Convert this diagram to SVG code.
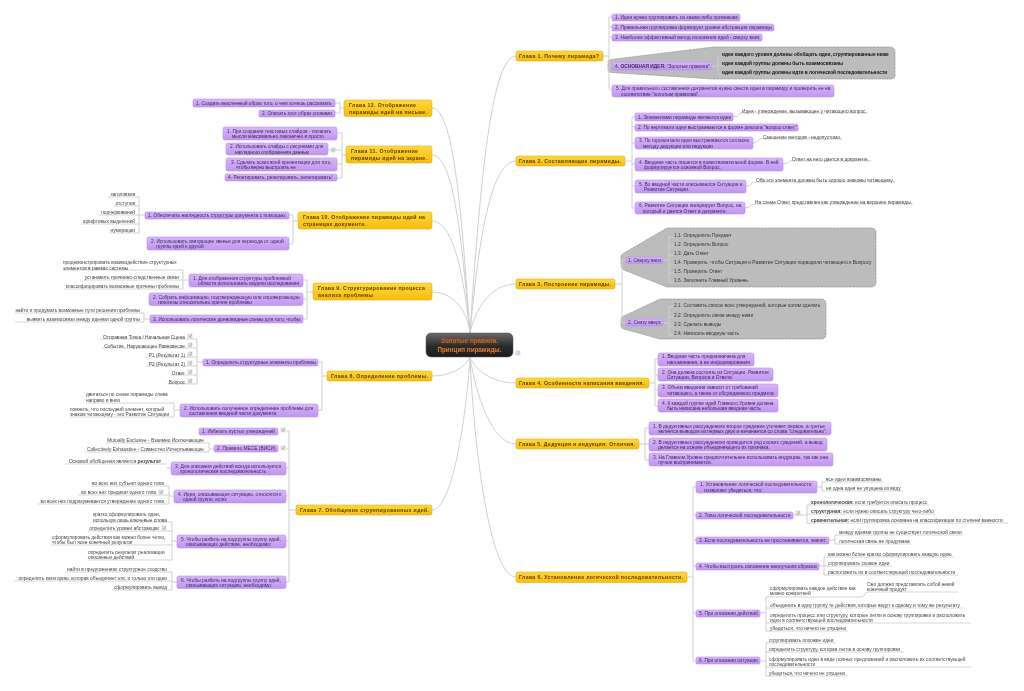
<svg xmlns="http://www.w3.org/2000/svg" xmlns:xlink="http://www.w3.org/1999/xlink" width="1024" height="691" viewBox="0 0 1024 691">
<style>
text{font-family:"Liberation Sans",Arial,sans-serif;fill:#333}
.c{fill:none;stroke:#cfcfcf;stroke-width:1}
.u{fill:none;stroke:#c4c4c4;stroke-width:.7}
.p{fill:url(#pg);stroke:#b890ec;stroke-width:.6}
.h{fill:url(#og);stroke:#dcb12c;stroke-width:.6}
.g{fill:#bcbcbc;stroke:#8e8e8e;stroke-width:.6;stroke-dasharray:3 .6}
.t{font-size:4.85px;fill:#3c2a58}
.n{font-size:4.8px;fill:#444}
.e{text-anchor:end}
.b{font-weight:bold}
.k{font-size:4.75px;fill:#111;font-weight:bold}
.d{font-size:4.85px;fill:#333}
.a{font-size:5.2px;font-weight:bold;fill:#5a4300}
</style>
<defs>
<linearGradient id="pg" x1="0" y1="0" x2="0" y2="1"><stop offset="0" stop-color="#d7b6fa"/><stop offset="1" stop-color="#c194f2"/></linearGradient>
<linearGradient id="og" x1="0" y1="0" x2="0" y2="1"><stop offset="0" stop-color="#ffd83c"/><stop offset="1" stop-color="#f8bd05"/></linearGradient>
<linearGradient id="cg" x1="0" y1="0" x2="0" y2="1"><stop offset="0" stop-color="#6a6a6a"/><stop offset=".55" stop-color="#2b2b2b"/><stop offset="1" stop-color="#1c1c1c"/></linearGradient>
<filter id="bl" filterUnits="userSpaceOnUse" x="0" y="0" width="1024" height="691"><feGaussianBlur stdDeviation=".28"/></filter>
<g id="ic"><rect x="-2" y="-2" width="4" height="4" fill="#e6e6e6" stroke="#b4b4b4" stroke-width=".4"/><path d="M-1 .2 0 1.2 1.6-1.6" fill="none" stroke="#7d9b63" stroke-width=".6"/></g>
</defs>
<rect width="1024" height="691" fill="#fff"/>
<g filter="url(#bl)">
<g id="hulls">
<path class="g" d="M608 62Q608 60 611 59.500L713 47H889Q895 47 895 52V76Q895 79 891 79H713L611 72.500Q608 72 608 69Z"/>
<path class="g" d="M621 256Q622 254 624 253L667 228H871Q876 228 876 233V282Q876 287 871 287H667L624 270Q621 268 621 265Z"/>
<path class="g" d="M621 319Q621 317 624 316L660 299H821Q826 299 826 304V334Q826 339 821 339H660L624 329Q621 328 621 325Z"/>
</g>

<g id="connectors">
<path class="c" d="M470 333C479 200 490 56 516 56"/>
<path class="c" d="M470 333C477 260 488 161 516 161"/>
<path class="c" d="M470 333C475 310 490 284 516 284"/>
<path class="c" d="M470 357C475 370 492 383 516 383"/>
<path class="c" d="M470 357C476 395 492 444 516 444"/>
<path class="c" d="M470 357C474 450 490 577 516 577"/>
<path class="c" d="M470 333C463 240 456 108 432 108"/>
<path class="c" d="M470 333C463 260 456 155 432 155"/>
<path class="c" d="M470 333C465 290 456 221 432 221"/>
<path class="c" d="M470 333C468 315 456 292 432 292"/>
<path class="c" d="M470 357C465 368 450 376 432 376"/>
<path class="c" d="M470 357C466 420 452 510 432 510"/>

<path class="c" d="M603 56H609M609 17V88Q609 90 612 90M612 17H609M612 27H609M612 37H609M612 66H609"/>
<path class="c" d="M625 161H632M632 117V208M635 117H632M635 127H632M635 143H632M635 164H632M635 186H632M635 208H632"/>
<path class="c" d="M733 117Q738 117 740 113.500L742 112.500M753 143Q758 143 760 139L763 138.500M783 164Q788 164 790 161L792 160.500M746 186Q750 186 752 183L756 182M745 208Q749 208 751 205L755 204"/>
<path class="c" d="M615 284H622M622 260V323M626 260H622M626 323H622"/>
<path class="c" d="M663 260H669M669 236V281M674 237H669M674 246H669M674 255H669M674 264H669M674 273H669M674 282H669"/>
<path class="c" d="M663 323H669M669 307V335M674 307H669M674 317H669M674 326H669M674 335H669"/>
<path class="c" d="M649 383H655M655 359V406M658 359H655M658 375H655M658 390H655M658 406H655"/>
<path class="c" d="M639 444H645M645 428V460M649 428H645M649 444H645M649 460H645"/>
<path class="c" d="M687 577H693M693 487V661M696 487H693M696 515H693M696 540H693M696 566H693M696 613H693M696 661H693"/>
<path class="c" d="M817 487H822M822 482V491M826 482H822M826 491H822"/>
<path class="c" d="M793 515H807M807 505V523M811 505H807M811 514H807M811 523H807"/>
<path class="c" d="M829 540H835M835 535V544M839 535H835M839 544H835"/>
<path class="c" d="M819 566H824M824 557V575M828 557H824M828 566H824M828 575H824"/>
<path class="c" d="M760 613H766M766 597V631M770 597H766M770 608H766M770 623H766M770 631H766M860 597Q864 597 865 594L867 592"/>
<path class="c" d="M760 661H766M766 643V676M769 643H766M769 652H766M769 667H766M769 676H766"/>

<path class="c" d="M344 108H340M340 103V113M335 103H340M335 113H340"/>
<path class="c" d="M346 155H342M342 133V178M337 133H342M328 150H342M337 164H342M337 178H342"/>
<path class="c" d="M298 221H293M293 215V244M289 215H293M289 244H293"/>
<path class="c" d="M145 215H139M139 197V233M135 197H139M135 206H139M135 215H139M135 224H139M135 233H139"/>
<path class="c" d="M313 292H307M307 280V319M303 280H307M303 299H307M303 319H307"/>
<path class="c" d="M189 280H183M183 270V289M179 270H183M179 280H183M179 289H183"/>
<path class="c" d="M150 319H144M144 313V322M140 313H144M140 322H144"/>
<path class="c" d="M327 376H322M322 362V410M318 362H322M318 410H322"/>
<path class="c" d="M203 362H197M197 339V384M193 339H197M193 348H197M193 357H197M193 366H197M193 375H197M193 384H197"/>
<path class="c" d="M180 410H174M174 403V417M170 403H174M170 417H174"/>
<path class="c" d="M296 510H289M289 431V582M286 431H289M286 449H289M286 468H289M286 496H289M286 541H289M286 582H289"/>
<path class="c" d="M214 449H209M209 443V452M204 443H209M204 452H209"/>
<path class="c" d="M171 468H166M166 464H161"/>
<path class="c" d="M174 496H169M169 486V504M164 486H169M164 495H169M164 504H169"/>
<path class="c" d="M177 541H172M172 522V560M167 522H172M167 531H172M167 545H172M167 560H172"/>
<path class="c" d="M177 582H172M172 572V590M167 572H172M167 581H172M167 590H172"/>

<path class="u" d="M742 113H868M763 139H842M792 161H871M756 182H895M755 204H913"/>
<path class="u" d="M674 237H733M674 246H730M674 255H711M674 264H871M674 273H722M674 282H749M674 307H820M674 317H754M674 326H722M674 335H739"/>
<path class="u" d="M826 482H883M826 491H903M811 505H929M811 514H935M811 523H1008M839 535H963M839 544H911M828 557H954M828 566H892M828 575H958"/>
<path class="u" d="M770 597H860M867 592H958M770 608H963M770 623H971M770 631H848M769 643H836M769 652H904M769 667H971M769 676H848"/>
<path class="u" d="M108 197H135M114 206H135M99 215H135M81 224H135M109 233H135"/>
<path class="u" d="M63 270H179M84 280H179M64 289H179M15 313H140M15 322H140"/>
<path class="u" d="M100 339H193M102 348H193M146 357H193M146 366H193M170 375H193M167 384H193M86 403H170M70 417H170"/>
<path class="u" d="M105 443H204M85 452H204M65 464H161M91 486H164M78 495H164M38 504H164"/>
<path class="u" d="M92 522H167M88 531H167M51 545H167M87 560H167M65 572H167M14 581H167M112 590H167"/>
</g>

<g id="center"><rect x="426" y="333" width="87" height="24" rx="5" fill="url(#cg)" stroke="#555" stroke-width=".5"/><text x="469.500" y="343" text-anchor="middle" font-size="6.300" font-weight="bold" style="fill:#e25f18">Золотые правила.</text><text x="469.500" y="351.500" text-anchor="middle" font-size="6.300" font-weight="bold" style="fill:#ec7a22">Принцип пирамиды.</text><rect x="516" y="351" width="4" height="4" fill="#cfdcee" stroke="#a9bcd8" stroke-width=".4"/></g>

<g id="ch1"><rect class="h" x="516" y="51" width="87" height="10" rx="2"/><text class="a" x="519" y="57.800" textLength="80">Глава 1. Почему пирамида?</text>
<rect class="p" x="612" y="14" width="128" height="7" rx="1.500"/><text class="t" x="615" y="19">1. Идеи нужно группировать по каким-либо признакам</text>
<rect class="p" x="612" y="24" width="162" height="7" rx="1.500"/><text class="t" x="615" y="29">2. Правильная группировка формирует уровни абстракции пирамиды</text>
<rect class="p" x="612" y="34" width="150" height="7" rx="1.500"/><text class="t" x="615" y="39">3. Наиболее эффективный метод изложения идей - сверху вниз</text>
<rect class="p" x="612" y="62" width="100" height="8" rx="1.500"/><text class="t" x="615" y="67.500">4. <tspan class="b">ОСНОВНАЯ ИДЕЯ:</tspan> "Золотые правила"</text>
<path class="c" d="M712 66H718M718 56V72M722 56H718M722 65H718M722 74H718"/>
<text class="k" x="722" y="56">идеи каждого уровня должны обобщать идеи, сгруппированные ниже</text><text class="k" x="722" y="65">идеи каждой группы должны быть взаимосвязаны</text><text class="k" x="722" y="74">идеи каждой группы должны идти в логической последовательности</text>
<rect class="p" x="612" y="85" width="222" height="12" rx="2"/><text class="t" x="616" y="90">5. Для правильного составления документов нужно свести идеи в пирамиду и проверить ее на</text><text class="t" x="621" y="95.500">соответствие "золотым правилам".</text></g>

<g id="ch2"><rect class="h" x="516" y="156" width="109" height="10" rx="2"/><text class="a" x="519" y="162.800" textLength="102">Глава 2. Составляющие пирамиды.</text>
<rect class="p" x="635" y="113" width="98" height="8" rx="1.500"/><text class="t" x="638" y="118.500">1. Элементами пирамиды являются идеи</text><text class="n" x="742" y="112.500">Идея - утверждение, вызывающее у читающего вопрос.</text>
<rect class="p" x="635" y="124" width="163" height="7" rx="1.500"/><text class="t" x="638" y="129">2. По вертикали идеи выстраиваются в форме диалога "вопрос-ответ".</text>
<rect class="p" x="635" y="137" width="118" height="12" rx="2"/><text class="t" x="639" y="142">3. По горизонтали идеи выстраиваются согласно</text><text class="t" x="643" y="147.500">методу дедукции или индукции</text><text class="n" x="763" y="138.500">Смешение методов - недопустимо.</text>
<rect class="p" x="635" y="158" width="148" height="13" rx="2"/><text class="t" x="639" y="163.500">4. Вводная часть пишется в повествовательной форме. В ней</text><text class="t" x="644" y="169">формулируется основной Вопрос.</text><text class="n" x="792" y="160.500">Ответ на него дается в документе.</text>
<rect class="p" x="635" y="180" width="111" height="13" rx="2"/><text class="t" x="639" y="185.500">5. Во вводной части описываются Ситуация и</text><text class="t" x="644" y="191">Развитие Ситуации.</text><text class="n" x="756" y="181.500">Оба эти элемента должны быть хорошо знакомы читающему.</text>
<rect class="p" x="635" y="202" width="110" height="12" rx="2"/><text class="t" x="639" y="207">6. Развитие Ситуации инициирует Вопрос, на</text><text class="t" x="643" y="212.500">который и дается Ответ в документе.</text><text class="n" x="755" y="203.500">На схеме Ответ представлен как утверждение на вершине пирамиды.</text></g>

<g id="ch3"><rect class="h" x="516" y="279" width="99" height="10" rx="2"/><text class="a" x="519" y="285.800" textLength="92">Глава 3. Построение пирамиды.</text>
<rect class="p" x="626" y="257" width="37" height="6.500" rx="1.500"/><text class="t" x="628" y="261.800">1. Сверху вниз</text>
<text class="d" x="674" y="236.500">1.1. Определить Предмет</text><text class="d" x="674" y="245.500">1.2. Определить Вопрос</text><text class="d" x="674" y="254.500">1.3. Дать Ответ</text><text class="d" x="674" y="263.500">1.4. Проверить, чтобы Ситуация и Развитие Ситуации подводили читающего к Вопросу</text><text class="d" x="674" y="272.500">1.5. Проверить Ответ</text><text class="d" x="674" y="281.500">1.6. Заполнить Главный Уровень.</text>
<rect class="p" x="626" y="319" width="37" height="7" rx="1.500"/><text class="t" x="628" y="324">2. Снизу вверх</text>
<text class="d" x="674" y="306.500">2.1. Составить список всех утверждений, которые хотим сделать</text><text class="d" x="674" y="316.500">2.2. Определить связи между ними</text><text class="d" x="674" y="325.500">2.3. Сделать выводы</text><text class="d" x="674" y="334.500">2.4. Написать вводную часть</text></g>

<g id="ch4"><rect class="h" x="516" y="378" width="133" height="10" rx="2"/><text class="a" x="519" y="384.800" textLength="125">Глава 4. Особенности написания введения.</text>
<rect class="p" x="658" y="353" width="96" height="13" rx="2"/><text class="t" x="662" y="358">1. Вводная часть предназначена для</text><text class="t" x="667" y="363.800">напоминания, а не информирования</text>
<rect class="p" x="658" y="368" width="115" height="13" rx="2"/><text class="t" x="662" y="373.500">2. Она должна состоять из Ситуации, Развития</text><text class="t" x="667" y="379">Ситуации, Вопроса и Ответа</text>
<rect class="p" x="658" y="384" width="120" height="13" rx="2"/><text class="t" x="662" y="389">3. Объем введения зависит от требований</text><text class="t" x="667" y="394.500">читающего, а также от обсуждаемого предмета</text>
<rect class="p" x="658" y="399" width="120" height="13" rx="2"/><text class="t" x="662" y="404.500">4. К каждой группе идей Главного Уровня должна</text><text class="t" x="667" y="410">быть написана небольшая вводная часть</text></g>

<g id="ch5"><rect class="h" x="516" y="439" width="123" height="10" rx="2"/><text class="a" x="519" y="445.800" textLength="116">Глава 5. Дедукция и индукция: Отличия.</text>
<rect class="p" x="649" y="422" width="182" height="13" rx="2"/><text class="t" x="653" y="427.500">1. В дедуктивных рассуждениях второе суждение уточняет первое, а третье</text><text class="t" x="658" y="433">является выводом из первых двух и начинается со слова "следовательно".</text>
<rect class="p" x="649" y="438" width="178" height="13" rx="2"/><text class="t" x="653" y="443.500">2. В индуктивных рассуждениях приводится ряд схожих суждений, а вывод</text><text class="t" x="658" y="449">делается на основе объединяющего их признака.</text>
<rect class="p" x="649" y="453" width="184" height="13" rx="2"/><text class="t" x="653" y="458.500">3. На Главном Уровне предпочтительнее использовать индукцию, так как она</text><text class="t" x="658" y="464">лучше воспринимается.</text></g>

<g id="ch6"><rect class="h" x="516" y="572" width="171" height="10.500" rx="2"/><text class="a" x="519" y="579" textLength="164">Глава 6. Установление логической последовательности.</text>
<rect class="p" x="696" y="481" width="121" height="12" rx="2"/><text class="t" x="700" y="486">1. Установление логической последовательности</text><text class="t" x="704" y="491.500">позволяет убедиться, что:</text>
<text class="n" x="826" y="481">все идеи взаимосвязаны</text><text class="n" x="826" y="490">ни одна идея не упущена из виду</text>
<rect class="p" x="696" y="512" width="97" height="7" rx="1.500"/><text class="t" x="699" y="517">2. Типы логической последовательности</text><use href="#ic" xlink:href="#ic" x="798" y="513"/>
<text class="n" x="811" y="504"><tspan class="b">хронологическая:</tspan> если требуется описать процесс</text><text class="n" x="811" y="513"><tspan class="b">структурная:</tspan> если нужно описать структуру чего-либо</text><text class="n" x="811" y="522"><tspan class="b">сравнительная:</tspan> если группировка основана на классификации по степени важности</text>
<rect class="p" x="696" y="537" width="133" height="7" rx="1.500"/><text class="t" x="699" y="542">3. Если последовательность не прослеживается, значит:</text>
<text class="n" x="839" y="534">между идеями группы не существует логической связи</text><text class="n" x="839" y="543">логическая связь не продумана</text>
<rect class="p" x="696" y="563" width="123" height="7" rx="1.500"/><text class="t" x="699" y="568">4. Чтобы выстроить изложение наилучшим образом</text>
<text class="n" x="828" y="556">как можно более кратко сформулировать каждую идею</text><text class="n" x="828" y="565">сгруппировать схожие идеи</text><text class="n" x="828" y="574">расположить их в соответствующей последовательности</text>
<rect class="p" x="696" y="610" width="64" height="7" rx="1.500"/><text class="t" x="699" y="615">5. При описании действий</text>
<text class="n" x="770" y="589.500">сформулировать каждое действие как</text><text class="n" x="770" y="595">можно конкретней</text><text class="n" x="867" y="586">Оно должно представлять собой некий</text><text class="n" x="867" y="591.300">конечный продукт</text>
<text class="n" x="770" y="607">объединить в одну группу те действия, которые ведут к одному и тому же результату</text>
<text class="n" x="770" y="616.500">определить процесс или структуру, которые легли в основу группировки и расположить</text><text class="n" x="770" y="622">идеи в соответствующей последовательности</text><text class="n" x="770" y="630">убедиться, что ничего не упущено</text>
<rect class="p" x="696" y="657" width="64" height="7" rx="1.500"/><text class="t" x="699" y="662">6. При описании ситуации</text>
<text class="n" x="769" y="642">сгруппировать похожие идеи</text><text class="n" x="769" y="651">определить структуру, которая легла в основу группировки</text><text class="n" x="769" y="660.500">сформулировать идеи в виде полных предложений и расположить их соответствующей</text><text class="n" x="769" y="666">последовательности</text><text class="n" x="769" y="675">убедиться, что ничего не упущено</text></g>

<g id="ch12"><rect class="h" x="344" y="100" width="88" height="16.500" rx="2"/><text class="a" x="349" y="106.500" textLength="67">Глава 12. Отображение</text><text class="a" x="349" y="113.500" textLength="78">пирамиды идей на письме.</text>
<rect class="p" x="193" y="99" width="142" height="8" rx="1.500"/><text class="t" x="196" y="104.500">1. Создать мысленный образ того, о чем хочешь рассказать</text>
<rect class="p" x="259" y="110" width="76" height="7" rx="1.500"/><text class="t" x="262" y="115">2. Описать этот образ словами</text></g>

<g id="ch11"><rect class="h" x="346" y="146" width="86" height="17" rx="2"/><text class="a" x="351" y="153" textLength="67">Глава 11. Отображение</text><text class="a" x="351" y="159.800" textLength="76">пирамиды идей на экране.</text>
<rect class="p" x="223" y="127" width="114" height="13" rx="2"/><text class="t" x="227" y="132.500">1. При создании текстовых слайдов - излагать</text><text class="t" x="232" y="138">мысли максимально лаконично и просто</text>
<rect class="p" x="226" y="143" width="102" height="12" rx="2"/><text class="t" x="230" y="148">2. Использовать слайды с рисунками для</text><text class="t" x="235" y="153.500">наглядного отображения данных</text><use href="#ic" xlink:href="#ic" x="333" y="150"/>
<rect class="p" x="226" y="158" width="111" height="13" rx="2"/><text class="t" x="231" y="163.500">3. Сделать эскиз всей презентации для того,</text><text class="t" x="236" y="169">чтобы верно выстроить ее</text>
<rect class="p" x="225" y="174" width="112" height="7" rx="1.500"/><text class="t" x="228" y="179">4. Репетировать, репетировать, репетировать!</text></g>

<g id="ch10"><rect class="h" x="298" y="212" width="134" height="17" rx="2"/><text class="a" x="303" y="219" textLength="122">Глава 10. Отображение пирамиды идей на</text><text class="a" x="303" y="225.800" textLength="63">страницах документа.</text>
<rect class="p" x="145" y="212" width="144" height="7" rx="1.500"/><text class="t" x="148" y="217">1. Обеспечить наглядность структуры документа с помощью:</text>
<rect class="p" x="147" y="237" width="142" height="13" rx="2"/><text class="t" x="151" y="242.500">2. Использовать связующие звенья для перехода от одной</text><text class="t" x="156" y="248">группы идей к другой</text>
<text class="n e" x="135" y="196">заголовков</text><text class="n e" x="135" y="205">отступов</text><text class="n e" x="135" y="214">подчеркиваний</text><text class="n e" x="135" y="223">шрифтовых выделений</text><text class="n e" x="135" y="232">нумерации</text></g>

<g id="ch9"><rect class="h" x="313" y="283" width="119" height="17" rx="2"/><text class="a" x="318" y="290" textLength="107">Глава 9. Структурирование процесса</text><text class="a" x="318" y="296.800" textLength="55">анализа проблемы</text>
<rect class="p" x="189" y="274" width="114" height="13" rx="2"/><text class="t" x="193" y="279.500">1. Для отображения структуры проблемной</text><text class="t" x="198" y="285">области использовать модели исследования</text>
<rect class="p" x="149" y="293" width="154" height="12.500" rx="2"/><text class="t" x="153" y="298.500">2. Собрать информацию, подтверждающую или опровергающую</text><text class="t" x="158" y="304">гипотезы относительно причин проблемы</text>
<rect class="p" x="150" y="315" width="153" height="8" rx="1.500"/><text class="t" x="153" y="320.500">3. Использовать логические древовидные схемы для того, чтобы:</text>
<text class="n" x="63" y="264">продемонстрировать взаимодействие структурных</text><text class="n" x="63" y="269.500">элементов в рамках системы</text><text class="n e" x="179" y="279">устанавить причинно-следственные связи</text><text class="n e" x="179" y="288">классифицировать возможные причины проблемы</text>
<text class="n e" x="140" y="312">найти и продумать возможные пути решения проблемы</text><text class="n e" x="140" y="321">выявить взаимосвязи между идеями одной группы</text></g>

<g id="ch8"><rect class="h" x="327" y="371" width="105" height="10" rx="2"/><text class="a" x="331" y="377.800" textLength="97">Глава 8. Определение проблемы.</text>
<rect class="p" x="203" y="359" width="115" height="7" rx="1.500"/><text class="t" x="206" y="364">1. Определить структурные элементы проблемы</text>
<rect class="p" x="180" y="404" width="138" height="13" rx="2"/><text class="t" x="184" y="409.500">2. Использовать полученное определение проблемы для</text><text class="t" x="189" y="415">составления вводной части документа</text>
<text class="n e" x="185" y="338.500">Отправная Точка / Начальная Сцена</text><text class="n e" x="185" y="347.500">Событие, Нарушающее Равновесие</text><text class="n e" x="185" y="356.500">P1 (Результат 1)</text><text class="n e" x="185" y="365.500">P2 (Результат 2)</text><text class="n e" x="185" y="374.500">Ответ</text><text class="n e" x="185" y="383.500">Вопрос</text>
<use href="#ic" xlink:href="#ic" x="190" y="336"/><use href="#ic" xlink:href="#ic" x="190" y="345"/><use href="#ic" xlink:href="#ic" x="190" y="354"/><use href="#ic" xlink:href="#ic" x="190" y="363"/><use href="#ic" xlink:href="#ic" x="190" y="372"/><use href="#ic" xlink:href="#ic" x="190" y="381"/>
<text class="n" x="86" y="396">двигаться по схеме пирамиды слева</text><text class="n" x="86" y="402">направо и вниз</text><text class="n" x="70" y="410.500">помнить, что последний элемент, который</text><text class="n" x="70" y="416">знаком читающему - это Развитие Ситуации</text></g>

<g id="ch7"><rect class="h" x="296" y="505" width="136" height="10" rx="2"/><text class="a" x="300" y="511.800" textLength="129">Глава 7. Обобщение сгруппированных идей.</text>
<rect class="p" x="199" y="428" width="79" height="7" rx="1.500"/><text class="t" x="202" y="433">1. Избегать пустых утверждений</text><use href="#ic" xlink:href="#ic" x="283" y="430"/>
<rect class="p" x="214" y="445" width="64" height="7" rx="1.500"/><text class="t" x="217" y="450">2. Правило MECE (ВИСИ)</text><use href="#ic" xlink:href="#ic" x="283" y="448"/>
<text class="n e" x="204" y="442">Mutually Exclusive - Взаимно Исключающие</text><text class="n e" x="204" y="451">Collectively Exhaustive - Совместно Исчерпывающие</text>
<rect class="p" x="171" y="462" width="115" height="13" rx="2"/><text class="t" x="175" y="467.500">3. Для описания действий всегда используется</text><text class="t" x="180" y="473">хронологическая последовательность</text>
<text class="n e" x="161" y="463">Основой обобщения является <tspan class="b">результат</tspan></text>
<rect class="p" x="174" y="490" width="112" height="13" rx="2"/><text class="t" x="178" y="495.500">4. Идеи, описывающие ситуацию, относятся к</text><text class="t" x="183" y="501">одной группе, если:</text>
<text class="n e" x="164" y="485">во всех них субъект одного типа</text><text class="n e" x="156" y="494">во всех них предикат одного типа</text><use href="#ic" xlink:href="#ic" x="161" y="492"/><text class="n e" x="164" y="503">во всех них подразумевается утверждение одного типа</text>
<rect class="p" x="177" y="535" width="109" height="13" rx="2"/><text class="t" x="181" y="540.500">5. Чтобы разбить на подгруппы группу идей,</text><text class="t" x="186" y="546">описывающих действие, необходимо:</text>
<text class="n" x="93" y="516">кратко сформулировать идеи,</text><text class="n" x="93" y="521.500">используя лишь ключевые слова</text><text class="n e" x="159" y="530">определить уровни абстракции</text><use href="#ic" xlink:href="#ic" x="164" y="528"/><text class="n" x="52" y="539">сформулировать действия как можно более четко,</text><text class="n" x="52" y="544">чтобы был ясен конечный результат</text><text class="n" x="88" y="553.500">определить результат реализации</text><text class="n" x="88" y="559">описанных действий</text>
<rect class="p" x="177" y="576" width="109" height="12.500" rx="2"/><text class="t" x="181" y="581.500">6. Чтобы разбить на подгруппы группу идей,</text><text class="t" x="186" y="587">описывающих ситуацию, необходимо:</text>
<text class="n e" x="167" y="571">найти в предложениях структурное сходство</text><text class="n e" x="167" y="580">определить категорию, которая объединяет эти, и только эти идеи</text><text class="n e" x="167" y="589">сформулировать вывод</text></g>
</g>
</svg>
